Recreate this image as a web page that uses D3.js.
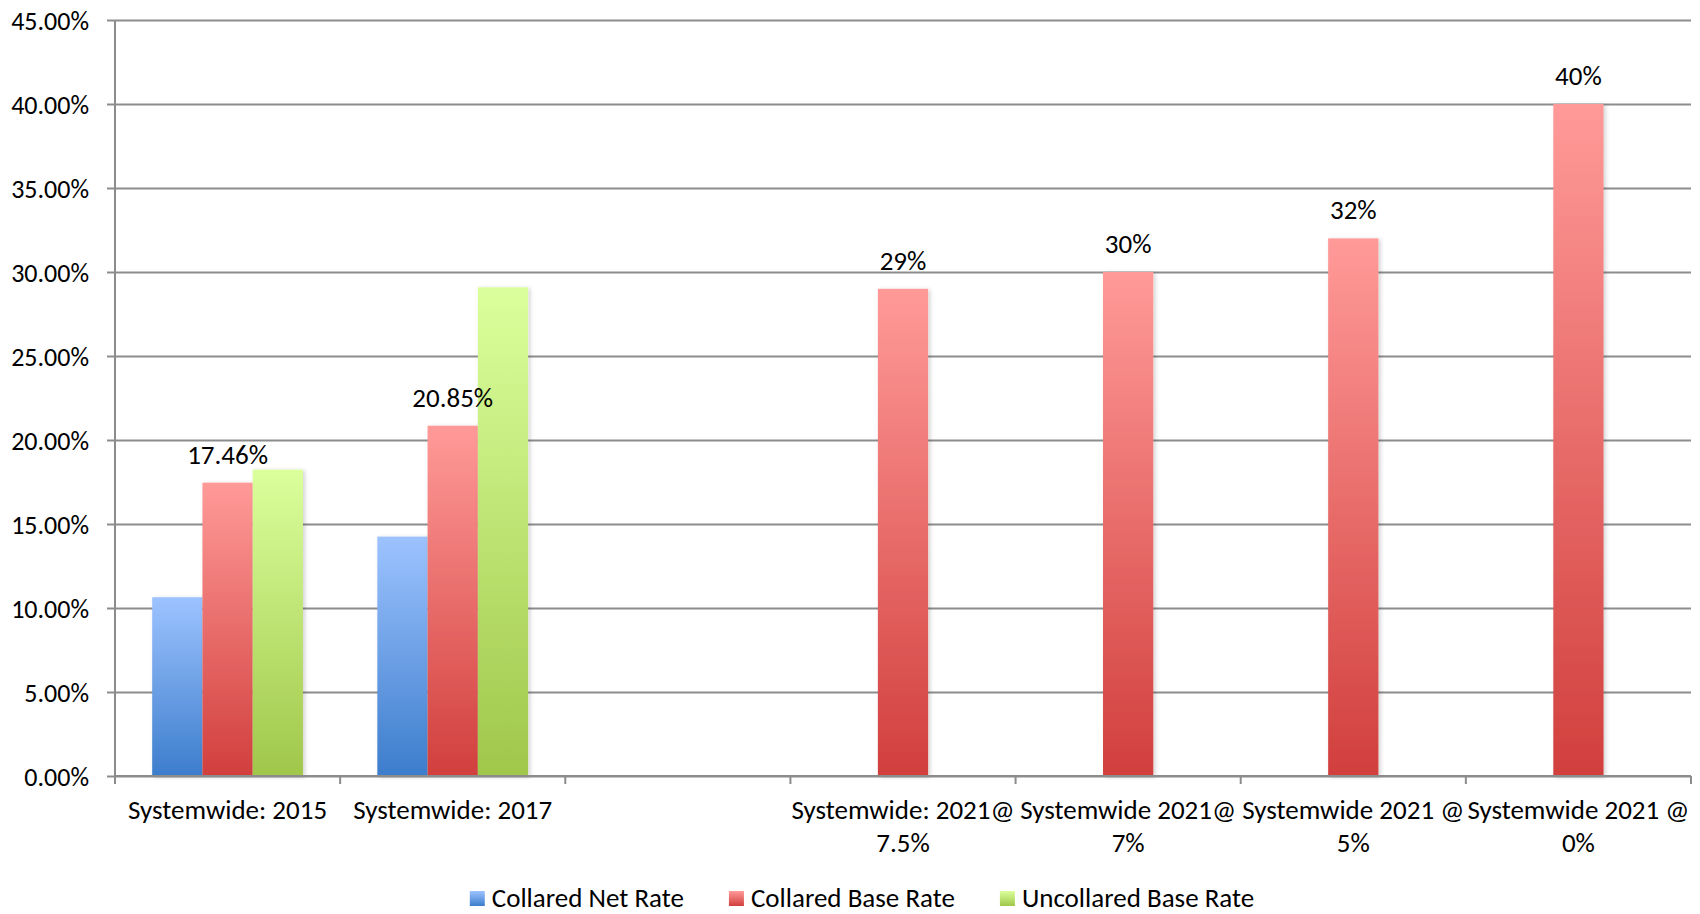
<!DOCTYPE html>
<html>
<head>
<meta charset="utf-8">
<script src="https://cdn.jsdelivr.net/npm/d3@7"></script>
<style>
  body { margin: 0; background: #fff; }
  text { font-family: Carlito, Lato, "Open Sans", sans-serif; fill: #000; }
</style>
</head>
<body>
<div id="chart"></div>
<script>
// chart values
var categories = ["Systemwide: 2015", "Systemwide: 2017", "",
  "Systemwide: 2021@ 7.5%", "Systemwide 2021@ 7%",
  "Systemwide 2021 @ 5%", "Systemwide 2021 @ 0%"];
var seriesNames = ["Collared Net Rate", "Collared Base Rate", "Uncollared Base Rate"];
var collaredNet = [0.1064, 0.1425, null, null, null, null, null];
var collaredBase = [0.1746, 0.2085, null, 0.29, 0.30, 0.32, 0.40];
var uncollaredBase = [0.1824, 0.2909, null, null, null, null, null];
var yTicks = [0, 0.05, 0.10, 0.15, 0.20, 0.25, 0.30, 0.35, 0.40, 0.45];

var seriesValues = [collaredNet, collaredBase, uncollaredBase];
// gradient top / bottom colours
var colors = [["#9dc3ff", "#3c7dcc"], ["#ff9a98", "#d13f3d"], ["#dbff9c", "#a0c74a"]];

var W = 1700, H = 914;
var margin = {top: 20, right: 9, bottom: 138, left: 115},
    width = W - margin.left - margin.right,
    height = H - margin.top - margin.bottom;

var svg = d3.select("#chart")
  .append("svg")
    .attr("width", W)
    .attr("height", H);

var defs = svg.append("defs");
colors.forEach(function(c, i) {
  var g = defs.append("linearGradient")
    .attr("id", "grad" + i)
    .attr("x1", 0).attr("y1", 0).attr("x2", 0).attr("y2", 1);
  g.append("stop").attr("offset", "0%").attr("stop-color", c[0]);
  g.append("stop").attr("offset", "100%").attr("stop-color", c[1]);
});
var shadow = defs.append("filter").attr("id", "shadow")
  .attr("x", "-20%").attr("y", "-5%").attr("width", "140%").attr("height", "110%");
shadow.append("feDropShadow")
  .attr("dx", 2).attr("dy", 1).attr("stdDeviation", 2)
  .attr("flood-color", "#000").attr("flood-opacity", 0.18);

var chart = svg.append("g")
  .attr("transform", "translate(" + margin.left + "," + margin.top + ")");

var y = d3.scaleLinear()
  .domain([0, 0.45])
  .range([height, 0]);

var x0 = d3.scaleBand()
  .domain(categories)
  .range([0, width])
  .padding(0);

var x1 = d3.scaleBand()
  .domain(d3.range(seriesNames.length))
  .range([0, x0.bandwidth()])
  .paddingInner(0)
  .paddingOuter(0.74);

// gridlines
chart.append("g")
  .attr("class", "grid")
  .call(d3.axisLeft(y).tickValues(yTicks).tickSize(-width).tickFormat(""))
  .call(function(g) {
    g.select(".domain").remove();
    g.selectAll("line").attr("stroke", "#8c8c8c").attr("stroke-width", 2);
  });

// y axis
chart.append("g")
  .call(d3.axisLeft(y).tickValues(yTicks).tickSize(8).tickPadding(18)
    .tickFormat(d3.format(".2%")))
  .call(function(g) {
    g.select(".domain").attr("stroke", "#8c8c8c").attr("stroke-width", 2)
      .attr("d", "M0," + (height + 8) + "V0");
    g.selectAll("line").attr("stroke", "#8c8c8c").attr("stroke-width", 2);
    g.selectAll("text").style("font-size", "26px").attr("dy", "0.36em");
  });

// bars
var groups = chart.selectAll(".cat")
  .data(categories)
  .enter().append("g")
    .attr("class", "cat")
    .attr("transform", function(d) { return "translate(" + x0(d) + ",0)"; });

groups.selectAll("rect")
  .data(function(d, ci) {
    return seriesValues.map(function(s, si) { return {s: si, v: s[ci]}; })
      .filter(function(d) { return d.v != null; });
  })
  .enter().append("rect")
    .attr("x", function(d) { return x1(d.s); })
    .attr("y", function(d) { return y(d.v); })
    .attr("width", x1.bandwidth())
    .attr("height", function(d) { return height - y(d.v); })
    .attr("fill", function(d) { return "url(#grad" + d.s + ")"; })
    .attr("filter", "url(#shadow)");

// labels on the collared base bars
groups.selectAll(".lbl")
  .data(function(d, ci) { return collaredBase[ci] == null ? [] : [collaredBase[ci]]; })
  .enter().append("text")
    .attr("class", "lbl")
    .attr("x", x1(1) + x1.bandwidth() / 2)
    .attr("y", function(d) { return y(d) - 19; })
    .attr("text-anchor", "middle")
    .style("font-size", "27px")
    .text(d3.format(".2~%"));

// x axis
var xAxis = chart.append("g")
  .attr("transform", "translate(0," + height + ")");
xAxis.append("line")
  .attr("x1", 0).attr("x2", width)
  .attr("stroke", "#8c8c8c").attr("stroke-width", 2);
xAxis.selectAll(".tick")
  .data(categories.map(function(c) { return x0(c); }).concat([width]))
  .enter().append("line")
    .attr("x1", function(d) { return d; })
    .attr("x2", function(d) { return d; })
    .attr("y1", 0).attr("y2", 8)
    .attr("stroke", "#8c8c8c").attr("stroke-width", 2);

var xlabels = xAxis.selectAll(".xl")
  .data(categories)
  .enter().append("text")
    .attr("class", "xl")
    .attr("text-anchor", "middle")
    .attr("x", function(d) { return x0(d) + x0.bandwidth() / 2; })
    .attr("y", 43)
    .style("font-size", "27px")
    .text(function(d) { return d; })
    .call(wrap, x0.bandwidth() + 6);

function wrap(sel, w) {
  sel.each(function() {
    var t = d3.select(this),
        words = t.text().split(/\s+/).filter(function(s) { return s.length; }),
        xx = t.attr("x"),
        line = [],
        lines = [];
    t.text(null);
    var tspan = t.append("tspan").attr("x", xx);
    words.forEach(function(word) {
      line.push(word);
      tspan.text(line.join(" "));
      if (tspan.node().getComputedTextLength() > w && line.length > 1) {
        line.pop();
        lines.push(line.join(" "));
        line = [word];
        tspan.text(word);
      }
    });
    lines.push(line.join(" "));
    t.text(null);
    lines.forEach(function(l, i) {
      t.append("tspan").attr("x", xx).attr("dy", i ? 32.5 : 0).text(l);
    });
  });
}

// legend
var legend = svg.append("g");
var gap = 45;
var cursor = 0;
seriesNames.forEach(function(name, i) {
  var item = legend.append("g").attr("transform", "translate(" + cursor + ",0)");
  item.append("rect")
    .attr("x", 0).attr("y", -16)
    .attr("width", 15).attr("height", 15)
    .attr("fill", "url(#grad" + i + ")");
  var t = item.append("text")
    .attr("x", 22).attr("y", 0)
    .style("font-size", "27px")
    .text(name);
  cursor += 22 + t.node().getComputedTextLength() + gap;
});
var legendW = cursor - gap;
legend.attr("transform", "translate(" + (862 - legendW / 2) + ",907)");
</script>
</body>
</html>
